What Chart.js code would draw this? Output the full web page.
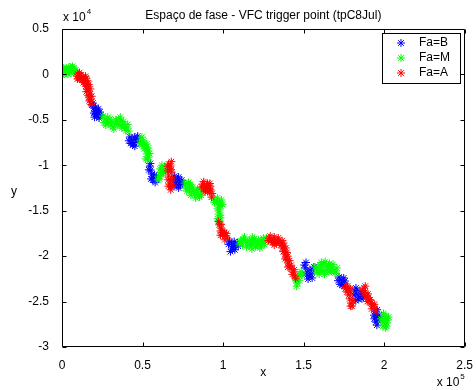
<!DOCTYPE html>
<html><head><meta charset="utf-8">
<script src="https://cdn.jsdelivr.net/npm/chart.js@4"></script>
<style>html,body{margin:0;padding:0;background:#fff;}canvas{display:block;}</style>
</head><body>
<canvas id="c" width="476" height="390"></canvas>
<script>
const titleText = 'Espaço de fase - VFC trigger point (tpC8Jul)';
const seriesNames = ['Fa=B', 'Fa=M', 'Fa=A'];
const seriesColors = ['#0000ff', '#00ff00', '#ff0000'];
const xLabel = 'x';
const yLabel = 'y';
const xExponent = '5';
const yExponent = '4';

// Fa=B (blue)
const faB = [
  [18600,-3370],[19800,-3700],[20400,-4030],[21700,-3920],[21000,-4360],[22300,-4250],[23500,-4140],[21700,-4580],[22900,-4580],[19800,-4250],
  [19200,-3150],[20800,-3600],[22600,-3800],[23000,-4800],[20200,-4700],[24100,-4450],
  [42100,-6890],[43300,-7220],[44600,-7550],[45800,-7110],[47000,-6780],[43900,-7770],[46400,-7440],
  [41500,-7300],[44900,-6900],[47600,-7150],[45200,-7900],[42700,-7600],
  [54500,-10090],[55100,-10530],[55700,-10970],[56900,-11300],[58200,-11520],[57500,-11080],[56300,-11630],
  [53900,-10500],[55300,-11500],[57800,-11900],[58800,-11200],[54800,-9800],
  [69300,-11520],[70500,-11850],[71800,-11520],[73000,-11850],[74300,-11630],[71200,-12180],[73600,-12180],
  [69900,-11200],[72400,-11300],[74900,-12000],[72400,-12500],[70100,-12200],
  [104000,-18340],[105200,-18670],[106400,-19000],[107700,-18780],[108900,-18560],[105800,-19220],
  [103400,-18700],[106900,-18400],[107300,-19300],[104600,-19500],[109400,-18900],
  [151000,-21310],[152200,-21750],[153500,-22190],[154700,-21970],[155900,-21530],[152800,-22520],[150400,-20980],
  [151500,-20700],[153900,-21500],[155300,-22400],[151900,-22100],[156400,-21200],
  [172000,-22300],[173300,-22630],[174500,-22960],[175700,-22740],[173900,-23180],
  [171400,-22700],[174900,-22400],[175300,-23300],[172600,-23100],
  [181900,-23840],[183200,-24170],[184400,-24500],[185600,-24280],[186900,-24060],[183800,-24720],[181300,-24280],
  [182500,-23500],[185000,-23800],[186200,-24700],[182400,-24900],[187400,-24400],
  [194300,-26040],[194900,-26370],[195500,-26700],[196200,-27030],[194900,-27250],[196800,-26480],
  [193700,-26500],[195700,-25900],[197300,-26900],[195500,-27600],[193900,-26900]
];
// Fa=M (green)
const faM = [
  [0,480],[600,260],[1200,700],[1900,370],[2500,150],[3100,590],[3700,370],[4300,810],[5000,480],[5600,150],[6200,590],[6800,370],[7400,700],[8000,260],[1200,40],[3700,40],
  [600,700],[2500,600],[4600,300],[6500,900],[7700,400],[300,-100],[5300,800],[8600,500],
  [25400,-4580],[26600,-4910],[27800,-5130],[29100,-5350],[30300,-5570],[31600,-5790],[32800,-5460],[34000,-5130],[35300,-4910],[36500,-5130],[37700,-5460],[39000,-5680],[40200,-5900],[41500,-6230],[29700,-4910],[35900,-5570],
  [26000,-5300],[28400,-4700],[30900,-5200],[32200,-6000],[33400,-5000],[34600,-5500],[36200,-4700],[38300,-5200],[39600,-6200],[40800,-5500],[37100,-5900],[27200,-5600],
  [48900,-7220],[50100,-7550],[51400,-7770],[52600,-7660],[52000,-8100],[53200,-8430],[52600,-8760],[53800,-9090],[53200,-9420],[50700,-7330],
  [48300,-7600],[49600,-6900],[51100,-8200],[53600,-8100],[54300,-8700],[52000,-9300],[49600,-7800],
  [60000,-11190],[61300,-10750],[62500,-10420],[63700,-10200],[60600,-11520],[61900,-11080],
  [59400,-11600],[62000,-10000],[63000,-10800],[60900,-10400],[64300,-10600],
  [76100,-11960],[78000,-12290],[79200,-12620],[80400,-12950],[82300,-13170],[83500,-12840],[84800,-13280],[81100,-12400],[86000,-12950],[77400,-12840],
  [76700,-12500],[78500,-11900],[80000,-13300],[81700,-12800],[83000,-13600],[84200,-12600],[85400,-13500],[86600,-13300],[79700,-12100],
  [94100,-13710],[95900,-13930],[97800,-14040],[99000,-13820],[97200,-14370],[97800,-14920],[97200,-15360],[98400,-15800],[97200,-16130],
  [94700,-14100],[96500,-13600],[98600,-14500],[99600,-14300],[96600,-14800],[98300,-15500],[96600,-15900],[97800,-16400],
  [110100,-18670],[111400,-18340],[112600,-18120],[113900,-18340],[115100,-18560],[116300,-18890],[117600,-18560],[118800,-18340],[120000,-18450],[121300,-18780],[122500,-18560],[123800,-18230],[125000,-18010],[126200,-18340],[116300,-18230],[120000,-19000],[123800,-18890],
  [110700,-18300],[112000,-18800],[113300,-17900],[114500,-19000],[116900,-18600],[117900,-19200],[119400,-18100],[120600,-18700],[121900,-18200],[122800,-19100],[124400,-18500],[125600,-18700],[126800,-18000],[118200,-17900],
  [145400,-22630],[146700,-22300],[147900,-21970],[146000,-22960],[149100,-22080],
  [144900,-22300],[147300,-22700],[148500,-21700],[145700,-23300],
  [157800,-21530],[159000,-21200],[160300,-20980],[161500,-21200],[162700,-20870],[164000,-21090],[165200,-21310],[166500,-21090],[167700,-21310],[168900,-21530],[170200,-21750],[160900,-21640],[165800,-21750],[159700,-21970],
  [157200,-21200],[158400,-21800],[161000,-20700],[162100,-21600],[163400,-20600],[164600,-21500],[166000,-20800],[167100,-21700],[168300,-20900],[169500,-21900],[170700,-21300],[163000,-22000],
  [198600,-27250],[199900,-26920],[201100,-26590],[202300,-27030],[200500,-27470],[199300,-27690],[201700,-27360],
  [198000,-26900],[199600,-26300],[200800,-27900],[202800,-26700],[200500,-26800],[201400,-27700]
];
// Fa=A (red)
const faA = [
  [9300,-180],[10500,-400],[11800,-70],[13000,-290],[11100,-510],[13600,-620],[14900,-400],[14200,-840],[15500,-1060],[16100,-1280],[15500,-1610],[16700,-1830],[17300,-2160],[16700,-2490],[17900,-2710],[17900,-3040],[12400,-620],[9900,40],
  [9600,-500],[10900,200],[12100,-300],[13300,-900],[14600,-200],[15800,-700],[14800,-1300],[16600,-1100],[15100,-1900],[17600,-1600],[16300,-2300],[17000,-2900],[18500,-2400],[18200,-3300],
  [66200,-9860],[67400,-10080],[66800,-10410],[68100,-10750],[66200,-11190],[67400,-11630],[66800,-12070],[68100,-12400],[65600,-10630],
  [65600,-10100],[67900,-9600],[67700,-10500],[65900,-11600],[68400,-11500],[66100,-12300],[67500,-12700],[68900,-12200],
  [87300,-12070],[88500,-12400],[89700,-12180],[91000,-12510],[92200,-12290],[89100,-12730],[91600,-12840],[92800,-13500],[87900,-12510],
  [86700,-12400],[88000,-11800],[90300,-12000],[91800,-12000],[90400,-12900],[92200,-12700],[93200,-13100],[88800,-12900],
  [97800,-16550],[99000,-16900],[98400,-17230],[100200,-17450],[101500,-17780],[102700,-18000],[99600,-17670],
  [97200,-16200],[98700,-16500],[99700,-17400],[101000,-17400],[101100,-18200],[102100,-17500],[98400,-17700],
  [128700,-18000],[129900,-18340],[131200,-18120],[132400,-18450],[133700,-18230],[134900,-18560],[136100,-18780],[137400,-18560],[136800,-19100],[138000,-19440],[138600,-19770],[139200,-20100],[139800,-20430],[140500,-20760],[141100,-21090],[142300,-21420],[143600,-21750],[144800,-22190],[131800,-18780],
  [128100,-18300],[129300,-17800],[130600,-18500],[131800,-17900],[133100,-18600],[134300,-18000],[135500,-18500],[136700,-18300],[137900,-18900],[137400,-19500],[138900,-19100],[139600,-19600],[138600,-20300],[140200,-20000],[141300,-20500],[140300,-21200],[142300,-21000],[143000,-22000],[144200,-21500],[145000,-22500],
  [176400,-23290],[177600,-23620],[178800,-23950],[178200,-24280],[179500,-25160],[180100,-25490],[177000,-23950],
  [175800,-23600],[177300,-23300],[179000,-23600],[178600,-24700],[180500,-24900],[179200,-25500],
  [187500,-23510],[188100,-23950],[189400,-24390],[190600,-24830],[191800,-25160],[193100,-25490],[194300,-25820],[190000,-24170],
  [186800,-23800],[188300,-23300],[187700,-24300],[190100,-24600],[189500,-25000],[191400,-24800],[192600,-25300],[192300,-25800],[193900,-25300],[195000,-26100]
];

const FONT = "'Liberation Sans', Arial, sans-serif";
Chart.defaults.font.family = FONT;
Chart.defaults.font.size = 12;
Chart.defaults.color = '#000';

const toPts = arr => arr.map(p => ({x: p[0], y: p[1]}));
const seriesData = [faB, faM, faA];

const matlabFrame = {
  id: 'matlabFrame',
  afterDatasetsDraw(chart) {
    const {ctx, chartArea: a, scales} = chart;
    const xs = scales.x, ys = scales.y;
    ctx.save();
    const L = Math.round(a.left) + 0.5, R = Math.round(a.right) - 0.5;
    const T = Math.round(a.top) + 0.5, B = Math.round(a.bottom) - 0.5;
    ctx.strokeStyle = '#000';
    ctx.lineWidth = 1;
    ctx.beginPath();
    ctx.rect(L, T, R - L, B - T);
    const tl = 4;
    xs.ticks.forEach(t => {
      const px = Math.round(xs.getPixelForValue(t.value)) + 0.5;
      ctx.moveTo(px, B); ctx.lineTo(px, B - tl);
      ctx.moveTo(px, T); ctx.lineTo(px, T + tl);
    });
    ys.ticks.forEach(t => {
      const py = Math.round(ys.getPixelForValue(t.value)) + 0.5;
      ctx.moveTo(L, py); ctx.lineTo(L + tl, py);
      ctx.moveTo(R, py); ctx.lineTo(R - tl, py);
    });
    ctx.stroke();

    ctx.fillStyle = '#000';
    ctx.textBaseline = 'middle';
    ctx.textAlign = 'left';
    ctx.font = '12px ' + FONT;
    let w = ctx.measureText('x 10').width;
    ctx.fillText('x 10', a.left + 1, a.top - 11);
    ctx.font = '8px ' + FONT;
    ctx.fillText(yExponent, a.left + 1 + w + 1, a.top - 17);
    ctx.font = '12px ' + FONT;
    w = ctx.measureText('x 10').width;
    ctx.fillText('x 10', a.right - 28, a.bottom + 36);
    ctx.font = '8px ' + FONT;
    ctx.fillText(xExponent, a.right - 28 + w + 1, a.bottom + 30);
    ctx.font = '12px ' + FONT;
    ctx.textAlign = 'center';
    ctx.fillText(yLabel, 14, (a.top + a.bottom) / 2 + 4);

    const bw = 78, bh = 50;
    const bx = Math.round(a.right) - 5 - bw, by = Math.round(a.top) + 4;
    ctx.fillStyle = '#fff';
    ctx.fillRect(bx, by, bw, bh);
    ctx.strokeStyle = '#000';
    ctx.strokeRect(bx + 0.5, by + 0.5, bw, bh);
    seriesNames.forEach((name, i) => {
      const ry = by + 10 + i * 15;
      ctx.strokeStyle = seriesColors[i];
      ctx.fillStyle = seriesColors[i];
      Chart.helpers.drawPoint(ctx, {pointStyle: 'star', radius: 4, borderWidth: 1, rotation: 0}, bx + 19, ry);
      ctx.fillStyle = '#000';
      ctx.textAlign = 'left';
      ctx.textBaseline = 'middle';
      ctx.font = '12px ' + FONT;
      ctx.fillText(name, bx + 37, ry);
    });
    ctx.restore();
  }
};

new Chart(document.getElementById('c'), {
  type: 'scatter',
  data: {
    datasets: seriesData.map((arr, i) => ({
      label: seriesNames[i],
      data: toPts(arr),
      pointStyle: 'star',
      pointRadius: 4,
      pointBorderWidth: 1,
      borderColor: seriesColors[i],
      backgroundColor: seriesColors[i],
      showLine: false,
      order: 3 - i
    }))
  },
  options: {
    responsive: false,
    animation: false,
    events: [],
    layout: {padding: {left: 0, right: 10, top: 0, bottom: 0}},
    plugins: {
      legend: {display: false},
      tooltip: {enabled: false},
      title: {
        display: true,
        text: titleText,
        fullSize: false,
        color: '#000',
        font: {size: 12, weight: 'normal', family: FONT},
        padding: {top: 8, bottom: 6.6}
      }
    },
    scales: {
      x: {
        type: 'linear',
        min: 0, max: 250000,
        grid: {display: false},
        border: {display: false},
        ticks: {stepSize: 50000, padding: 3, color: '#000', callback: v => String(v / 1e5)},
        title: {display: true, text: xLabel, color: '#000', font: {size: 12}, padding: {top: 0, bottom: 10}},
        afterFit: s => { s.height = 43; }
      },
      y: {
        type: 'linear',
        min: -30000, max: 5000,
        grid: {display: false},
        border: {display: false},
        ticks: {stepSize: 5000, padding: 5, color: '#000', callback: v => String(v / 1e4)},
        afterFit: s => { s.width = 62; }
      }
    }
  },
  plugins: [matlabFrame]
});
</script>
</body></html>
